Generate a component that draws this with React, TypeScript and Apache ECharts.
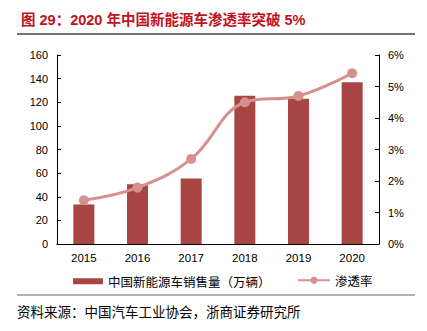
import React, { useEffect, useRef } from "react";
import * as echarts from "echarts";

const years = ["2015", "2016", "2017", "2018", "2019", "2020"];
const sales = [33.5, 50.5, 55.5, 125.5, 123, 137];
const penetration = [1.39, 1.79, 2.7, 4.5, 4.7, 5.42];

const barName = "中国新能源车销售量（万辆）";
const lineName = "渗透率";

export default function App() {
  const ref = useRef<HTMLDivElement>(null);
  useEffect(() => {
    if (!ref.current) return;
    const chart = echarts.init(ref.current, null, { renderer: "svg" });
    const axisLabelStyle = {
      color: "#000",
      fontSize: 11,
      fontFamily: "Liberation Sans, Arial, sans-serif",
    };
    chart.setOption({
      animation: false,
      backgroundColor: "#fff",
      grid: { left: 57, right: 48, top: 55, bottom: 87 },
      title: {
        text: "图 29：2020 年中国新能源车渗透率突破 5%",
        left: 16,
        top: 8,
        textStyle: {
          color: "#C0121C",
          fontSize: 14.5,
          fontWeight: "bold",
          fontFamily: "Liberation Sans, Noto Sans CJK SC, sans-serif",
        },
      },
      legend: [
        {
          data: [{ name: barName, icon: "rect" }],
          left: 68,
          top: 270,
          itemWidth: 30,
          itemHeight: 6,
          textStyle: { color: "#000", fontSize: 12.5, fontFamily: "Noto Sans CJK SC" },
        },
        {
          data: [{ name: lineName }],
          left: 292,
          top: 269,
          itemWidth: 32,
          itemHeight: 9,
          textStyle: { color: "#000", fontSize: 12.5, fontFamily: "Noto Sans CJK SC" },
        },
      ],
      xAxis: {
        type: "category",
        data: years,
        axisLine: { lineStyle: { color: "#000", width: 1 } },
        axisTick: { inside: true, length: 4, lineStyle: { color: "#000" } },
        axisLabel: { ...axisLabelStyle, fontSize: 11.5, margin: 8 },
      },
      yAxis: [
        {
          type: "value",
          min: 0,
          max: 160,
          interval: 20,
          splitLine: { show: false },
          axisLine: { show: true, lineStyle: { color: "#000" } },
          axisTick: { show: true, inside: true, length: 4, lineStyle: { color: "#000" } },
          axisLabel: { ...axisLabelStyle, margin: 9 },
        },
        {
          type: "value",
          min: 0,
          max: 6,
          interval: 1,
          splitLine: { show: false },
          axisLine: { show: true, lineStyle: { color: "#000" } },
          axisTick: { show: true, inside: true, length: 4, lineStyle: { color: "#000" } },
          axisLabel: { ...axisLabelStyle, margin: 9, formatter: "{value}%" },
        },
      ],
      series: [
        {
          name: barName,
          type: "bar",
          data: sales,
          barWidth: 21,
          itemStyle: { color: "#A84644" },
        },
        {
          name: lineName,
          type: "line",
          yAxisIndex: 1,
          data: penetration,
          smooth: 0.4,
          symbol: "circle",
          symbolSize: 10,
          lineStyle: { color: "#D4918F", width: 3 },
          itemStyle: { color: "#D4918F" },
        },
      ],
      graphic: [
        {
          type: "line",
          shape: { x1: 17, y1: 34, x2: 415, y2: 34 },
          style: { stroke: "#444", lineWidth: 1.5 },
        },
        {
          type: "line",
          shape: { x1: 17, y1: 295, x2: 415, y2: 295 },
          style: { stroke: "#666", lineWidth: 1 },
        },
        {
          type: "text",
          left: 17,
          top: 304,
          style: {
            text: "资料来源：中国汽车工业协会，浙商证券研究所",
            fill: "#000",
            fontSize: 13.5,
            fontFamily: "Noto Sans CJK SC",
          },
        },
      ],
    });
    return () => chart.dispose();
  }, []);
  return <div ref={ref} style={{ width: 427, height: 331, position: "absolute", left: 0, top: 0 }} />;
}
